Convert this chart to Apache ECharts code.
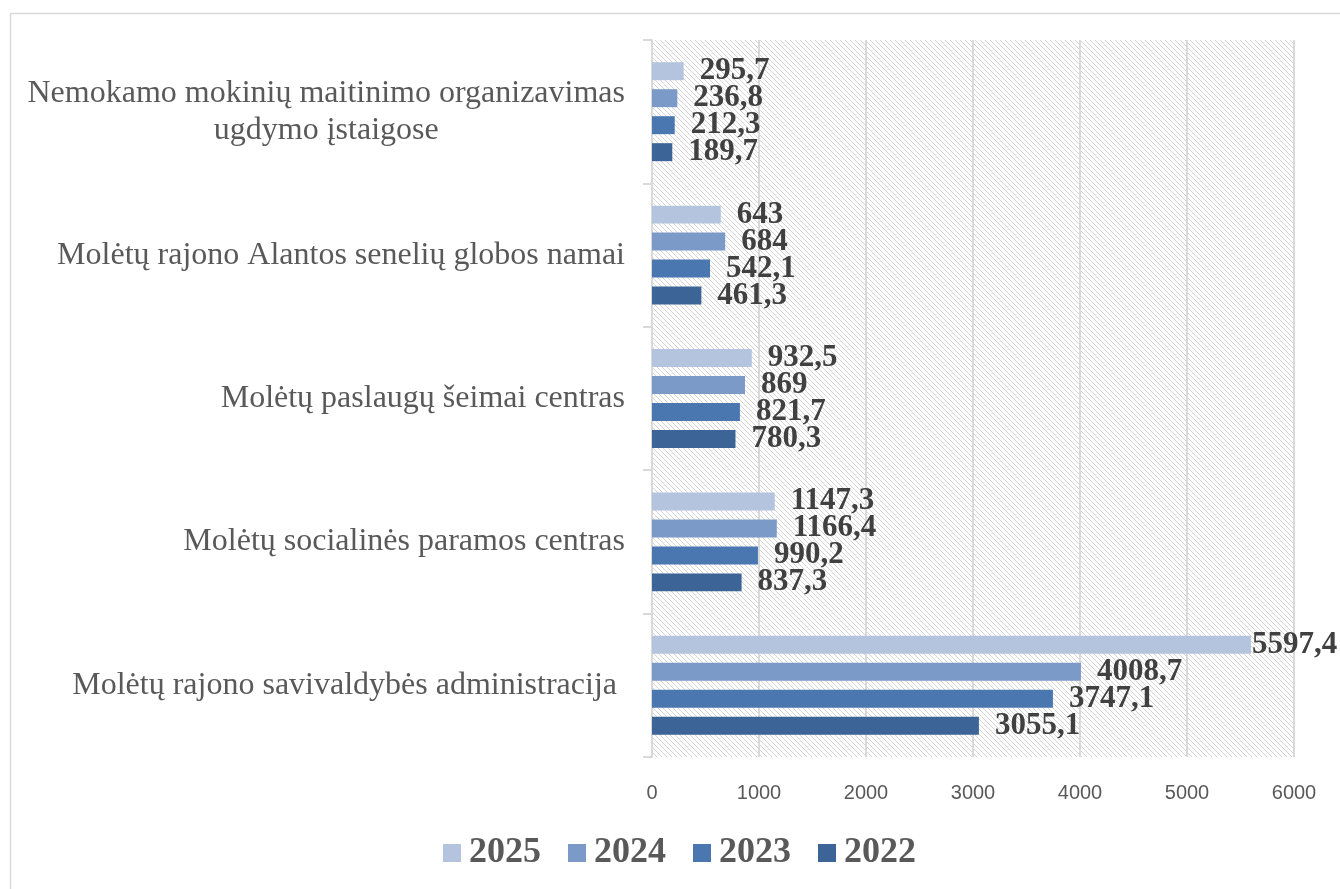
<!DOCTYPE html>
<html>
<head>
<meta charset="utf-8">
<script src="https://cdn.jsdelivr.net/npm/echarts@6/dist/echarts.min.js"></script>
<style>html,body{margin:0;padding:0;background:#fff}#c{width:1340px;height:889px}</style>
</head>
<body>
<div id="c"></div>
<script>
const categories = [
  'Molėtų rajono savivaldybės administracija ',
  'Molėtų socialinės paramos centras',
  'Molėtų paslaugų šeimai centras',
  'Molėtų rajono Alantos senelių globos namai',
  'Nemokamo mokinių maitinimo organizavimas\nugdymo įstaigose'
];
const years = ['2025', '2024', '2023', '2022'];
const values2022 = [3055.1, 837.3, 780.3, 461.3, 189.7];
const values2023 = [3747.1, 990.2, 821.7, 542.1, 212.3];
const values2024 = [4008.7, 1166.4, 869, 684, 236.8];
const values2025 = [5597.4, 1147.3, 932.5, 643, 295.7];
const xTicks = [0, 1000, 2000, 3000, 4000, 5000, 6000];

const colors = {'2022': '#3C6496', '2023': '#4A77B0', '2024': '#7C9AC8', '2025': '#B4C3DE'};
const seriesValues = {'2022': values2022, '2023': values2023, '2024': values2024, '2025': values2025};

// hatch pattern
const pc = document.createElement('canvas');
pc.width = 5; pc.height = 5;
const pctx = pc.getContext('2d');
pctx.fillStyle = '#ffffff';
pctx.fillRect(0, 0, 5, 5);
pctx.strokeStyle = '#d4d4d4';
pctx.lineWidth = 1;
pctx.beginPath();
pctx.moveTo(-1, -1); pctx.lineTo(6, 6);
pctx.moveTo(-6, -1); pctx.lineTo(1, 6);
pctx.moveTo(4, -1); pctx.lineTo(11, 6);
pctx.stroke();

const axisMax = 6000;
const chart = echarts.init(document.getElementById('c'));
const series = years.map(y => ({
  name: y,
  type: 'bar',
  // labels of bars reaching near the axis end sit tight against the bar
  data: seriesValues[y].map(v => v > axisMax * 0.9 ? {value: v, label: {distance: 1}} : v),
  barGap: '50%',
  barCategoryGap: '31%',
  itemStyle: {color: colors[y]},
  label: {
    show: true,
    position: 'right',
    distance: 16,
    formatter: p => String(p.value).replace('.', ','),
    fontFamily: 'Liberation Serif',
    fontWeight: 'bold',
    fontSize: 31,
    color: '#404040'
  }
}));

chart.setOption({
  backgroundColor: '#ffffff',
  animation: false,
  graphic: [{
    type: 'rect', left: 8, top: 11,
    shape: {width: 1400, height: 1000},
    style: {fill: 'none', stroke: '#d9d9d9', lineWidth: 1.5},
    silent: true, z: -10
  }],
  grid: {
    left: 652, right: 46, top: 40, bottom: 132,
    show: true,
    borderWidth: 0,
    backgroundColor: {image: pc, repeat: 'repeat'}
  },
  legend: {
    data: ['2025', '2024', '2023', '2022'],
    top: 830,
    left: 438,
    itemWidth: 18,
    itemHeight: 18,
    itemGap: 27,
    icon: 'rect',
    textStyle: {
      fontFamily: 'Liberation Serif',
      fontWeight: 'bold',
      fontSize: 36,
      color: '#595959',
      padding: [0, 0, 0, 3]
    }
  },
  xAxis: {
    type: 'value',
    min: 0,
    max: axisMax,
    interval: 1000,
    axisLine: {show: false},
    axisTick: {show: false},
    splitLine: {show: true, lineStyle: {color: '#d9d9d9', width: 2}},
    axisLabel: {
      margin: 26,
      fontFamily: 'Liberation Sans',
      fontSize: 20,
      color: '#595959',
      formatter: v => xTicks.includes(v) ? String(v) : ''
    }
  },
  yAxis: {
    type: 'category',
    data: categories,
    axisLine: {show: true, lineStyle: {color: '#d9d9d9', width: 2}},
    axisTick: {show: true, length: 9, lineStyle: {color: '#d9d9d9', width: 2}},
    axisLabel: {
      margin: 27,
      fontFamily: 'Liberation Serif',
      fontSize: 32,
      color: '#595959',
      lineHeight: 37,
      formatter: v => {
        const parts = v.split('\n');
        if (parts.length === 1) return '{a|' + v + '}';
        return parts.map(p => '{c|' + p + '}').join('\n');
      },
      rich: {
        a: {fontFamily: 'Liberation Serif', fontSize: 32, color: '#595959', lineHeight: 37},
        c: {fontFamily: 'Liberation Serif', fontSize: 32, color: '#595959', lineHeight: 37, align: 'center'}
      }
    }
  },
  series: series
});
</script>
</body>
</html>
